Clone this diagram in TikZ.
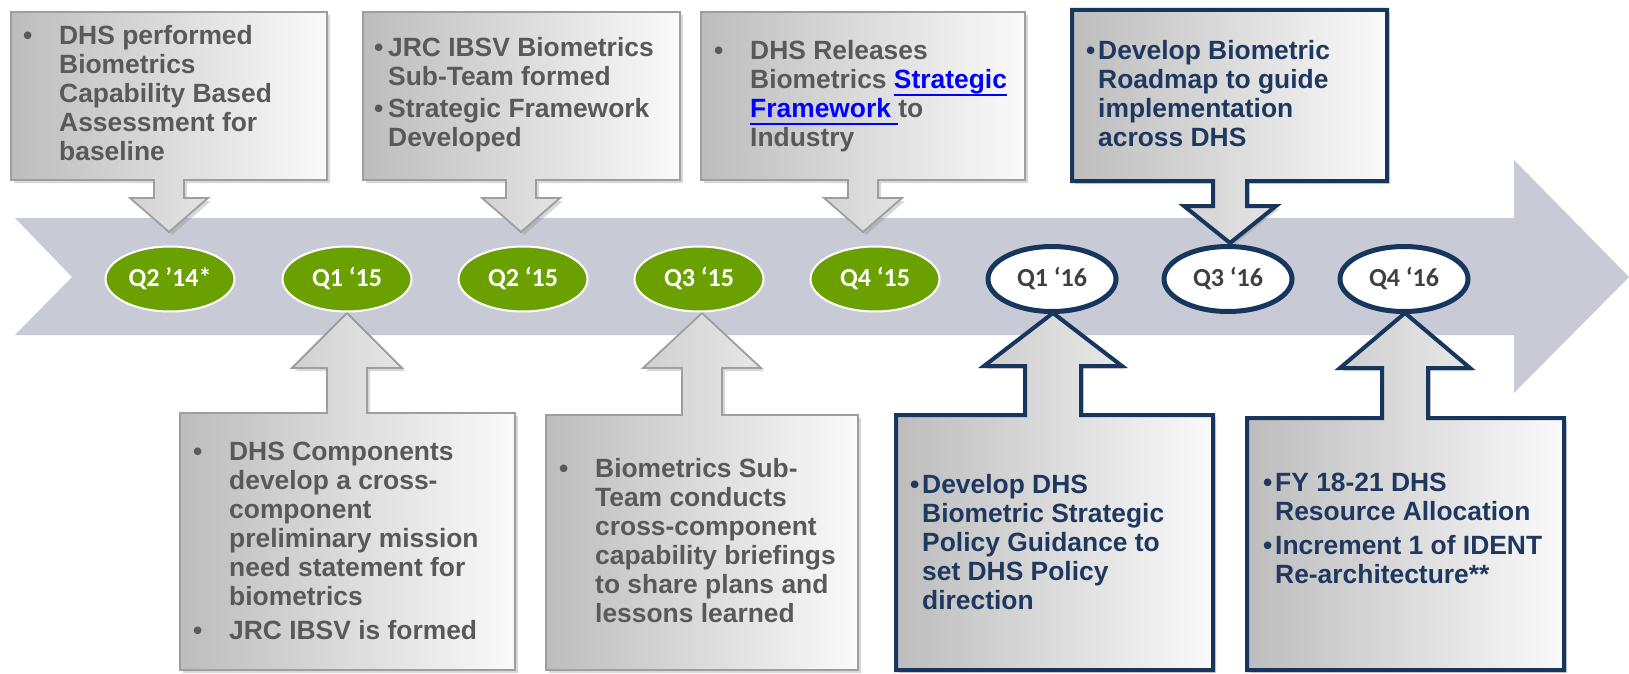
\documentclass[tikz,border=0pt]{standalone}
\usepackage{fontspec}
\setmainfont{Liberation Sans}
\newfontfamily\calfont{Carlito}
\usetikzlibrary{shapes.geometric,shadows}

\definecolor{band}{RGB}{200,203,214}
\definecolor{qgreen}{RGB}{106,160,0}
\definecolor{navy}{RGB}{23,54,93}
\definecolor{navytext}{RGB}{31,56,96}
\definecolor{graytext}{RGB}{89,89,89}
\definecolor{boxedge}{RGB}{158,158,158}
\definecolor{qtext}{RGB}{64,64,64}
\definecolor{linkblue}{RGB}{0,0,255}

\newcommand\linku[1]{\setbox0=\hbox{#1}\rlap{\rule[-7pt]{\wd0}{2pt}}\box0}
\newcommand\bul[1]{\noindent\llap{\makebox[#1pt][l]{•}}}
\newcommand\pgap[1][5]{\par\vskip#1pt}
\newcommand\boxtext[1]{\vtop{\hsize=330pt\parindent=0pt\parskip=0pt\leftskip=0pt\rightskip=0pt plus 1fil\relax #1}}

\pgfkeys{/co/.cd,
  L/.store in=\coL, T/.store in=\coT, R/.store in=\coR, B/.store in=\coB,
  cx/.store in=\coX, sw/.store in=\coS, hw/.store in=\coH,
  wy/.store in=\coW, tip/.store in=\coP}

\newcommand\calltop[2]{\begingroup\pgfkeys{/co/.cd,#2}%
  \path[#1] (\coL,\coT) -- (\coR,\coT) -- (\coR,\coB) -- ({\coX+\coS},\coB)
    -- ({\coX+\coS},\coW) -- ({\coX+\coH},\coW) -- (\coX,\coP)
    -- ({\coX-\coH},\coW) -- ({\coX-\coS},\coW) -- ({\coX-\coS},\coB)
    -- (\coL,\coB) -- cycle;\endgroup}
\newcommand\callbot[2]{\begingroup\pgfkeys{/co/.cd,#2}%
  \path[#1] (\coL,\coB) -- (\coL,\coT) -- ({\coX-\coS},\coT)
    -- ({\coX-\coS},\coW) -- ({\coX-\coH},\coW) -- (\coX,\coP)
    -- ({\coX+\coH},\coW) -- ({\coX+\coS},\coW) -- ({\coX+\coS},\coT)
    -- (\coR,\coT) -- (\coR,\coB) -- cycle;\endgroup}

\begin{document}
\begin{tikzpicture}[x=1pt,y=-1pt,
  grayco/.style={draw=boxedge, line width=1.8pt, line join=miter,
    left color=black!26, right color=black!2,
    drop shadow={shadow xshift=3pt, shadow yshift=-3pt, opacity=0.3}},
  navyco/.style={draw=navy, line width=4pt, line join=miter,
    left color=black!26, right color=black!2,
    drop shadow={shadow xshift=3pt, shadow yshift=-3pt, opacity=0.3}},
  qg/.style={ellipse, fill=qgreen, draw=white, line width=2pt,
    minimum width=129pt, minimum height=65pt, inner sep=0pt, text=white,
    font=\calfont\bfseries\fontsize{26}{30}\selectfont},
  qn/.style={ellipse, fill=white, draw=navy, line width=5pt,
    minimum width=128pt, minimum height=65pt, inner sep=0pt, text=qtext,
    font=\calfont\bfseries\fontsize{26}{30}\selectfont},
  gtxt/.style={anchor=base west, inner sep=0pt, text=graytext,
    font=\fontsize{26.4}{29}\selectfont\bfseries},
  ntxt/.style={gtxt, text=navytext}]

\useasboundingbox (0,0) rectangle (1629,674);
\fill[white] (0,0) rectangle (1629,674);

% timeline band
\fill[band] (15,218) -- (1514,218) -- (1514,160) -- (1629,277)
  -- (1514,393) -- (1514,335) -- (15,335) -- (72,277) -- cycle;

% top callouts
\calltop{grayco}{L=11,T=12,R=327,B=180,cx=169,sw=15,hw=39,wy=198,tip=232}
\calltop{grayco}{L=363,T=12,R=680,B=180,cx=521,sw=15,hw=39,wy=198,tip=232}
\calltop{grayco}{L=701,T=12,R=1025,B=180,cx=863,sw=15,hw=39,wy=198,tip=232}
\calltop{navyco}{L=1072,T=10,R=1387,B=181,cx=1230,sw=17,hw=46,wy=206,tip=243}

% bottom callouts
\callbot{grayco}{L=180,T=413,R=515,B=670,cx=347,sw=20,hw=55,wy=368,tip=313}
\callbot{grayco}{L=546,T=415,R=858,B=670,cx=702,sw=20,hw=59,wy=368,tip=313}
\callbot{navyco}{L=896,T=415,R=1213,B=670,cx=1053,sw=28,hw=69,wy=366,tip=313}
\callbot{navyco}{L=1247,T=418,R=1564,B=670,cx=1405,sw=23,hw=65,wy=368,tip=313}

% milestones
\node[qg] (q214) at (170,279) {Q2 ’14*};
\node[qg] (q115) at (347,279) {Q1 ‘15};
\node[qg] (q215) at (523,279) {Q2 ‘15};
\node[qg] (q315) at (699,279) {Q3 ‘15};
\node[qg] (q415) at (875,279) {Q4 ‘15};
\node[qn] (q116) at (1052,279) {Q1 ‘16};
\node[qn] (q316) at (1228,279) {Q3 ‘16};
\node[qn] (q416) at (1404,279) {Q4 ‘16};

% texts
\node[gtxt] (t1) at (59,45) {\boxtext{\bul{36}DHS performed\\Biometrics\\Capability Based\\Assessment for\\baseline}};
\node[gtxt] (t2) at (388,57) {\boxtext{\bul{14}JRC IBSV Biometrics\\Sub-Team formed\pgap[3]\bul{14}Strategic Framework\\Developed}};
\node[gtxt] (t3) at (750,60) {\boxtext{\bul{36}DHS Releases\\Biometrics {\color{linkblue}\linku{Strategic}}\\{\color{linkblue}\linku{Framework\ }}to\\Industry}};
\node[ntxt] (t5) at (1098,60) {\boxtext{\bul{12}Develop Biometric\\Roadmap to guide\\implementation\\across DHS}};
\node[gtxt] (b1) at (229,460) {\boxtext{\bul{36}DHS Components\\develop a cross-\\component\\preliminary mission\\need statement for\\biometrics\pgap\bul{36}JRC IBSV is formed}};
\node[gtxt] (b2) at (595,477) {\boxtext{\bul{36}Biometrics Sub-\\Team conducts\\cross-component\\capability briefings\\to share plans and\\lessons learned}};
\node[ntxt] (b3) at (922,493) {\boxtext{\bul{12}Develop DHS\\Biometric Strategic\\Policy Guidance to\\set DHS Policy\\direction}};
\node[ntxt] (b4) at (1275,491) {\boxtext{\bul{12}FY 18-21 DHS\\Resource Allocation\pgap\bul{12}Increment 1 of IDENT\\Re-architecture**}};
\end{tikzpicture}
\end{document}
